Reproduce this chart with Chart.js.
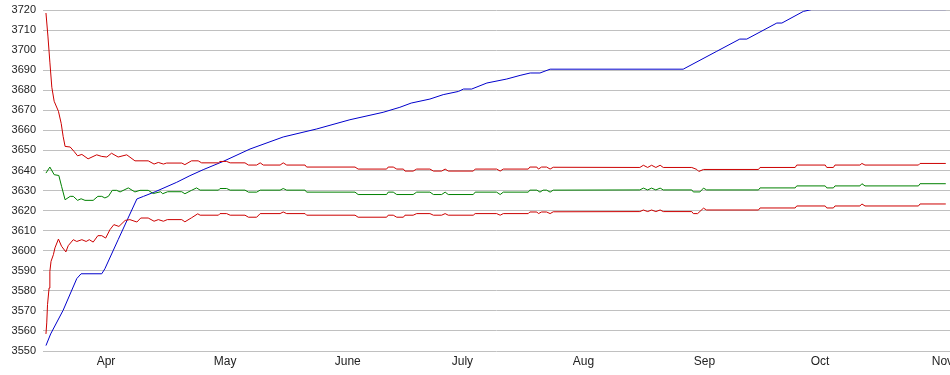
<!DOCTYPE html>
<html>
<head>
<meta charset="utf-8">
<script src="https://cdn.jsdelivr.net/npm/chart.js@4/dist/chart.umd.min.js"></script>
<style>
  html, body { margin: 0; padding: 0; background: #ffffff; }
  #wrap { width: 950px; height: 375px; position: relative; }
</style>
</head>
<body>
<div id="wrap"><canvas id="c"></canvas></div>
<script>
// x values are day-of-year (Mar 19 = 78 ... Nov 4 = 308)
const monthStarts = [91, 121, 152, 182, 213, 244, 274, 305];
const monthLabels = ['Apr', 'May', 'June', 'July', 'Aug', 'Sep', 'Oct', 'Nov'];

const yTicks = { min: 3550, max: 3720, step: 10 };

const blueDays = [78.0, 79.2, 82.4, 85.9, 87.0, 92.3, 93.1, 96.5, 101.3, 103.0, 106.0, 111.5, 114.9, 118.3, 123.4, 130.3, 138.8, 147.4, 155.9, 164.4, 168.7, 171.6, 176.4, 179.8, 183.7, 185.0, 187.1, 191.0, 196.1, 199.5, 202.1, 204.6, 207.2, 241.3, 249.9, 255.8, 257.6, 265.3, 266.6, 272.1, 274.2, 308.6];
const blueValues = [3552.7, 3558.5, 3570.3, 3586.1, 3588.5, 3588.5, 3591.0, 3605.5, 3625.8, 3627.1, 3629.4, 3634.1, 3637.4, 3640.4, 3644.5, 3650.7, 3656.7, 3660.7, 3665.3, 3669.0, 3671.5, 3673.6, 3675.6, 3677.8, 3679.4, 3680.6, 3680.6, 3683.6, 3685.6, 3687.4, 3688.6, 3688.6, 3690.5, 3690.5, 3699.4, 3705.5, 3705.5, 3713.5, 3713.5, 3719.3, 3720.2, 3720.2];

const upperDays = [78.0, 78.5, 79.0, 79.5, 80.1, 81.2, 81.9, 82.4, 82.9, 84.2, 85.2, 86.1, 87.2, 88.8, 91.0, 92.3, 93.6, 94.8, 96.5, 98.7, 100.8, 104.2, 105.7, 106.8, 108.1, 108.9, 112.8, 113.6, 115.3, 117.0, 117.9, 122.2, 122.6, 124.3, 125.2, 129.0, 129.9, 132.0, 132.9, 133.7, 138.0, 138.8, 139.7, 144.4, 144.8, 157.2, 158.0, 165.3, 165.7, 167.0, 167.9, 169.6, 170.0, 172.1, 173.0, 176.4, 177.3, 179.4, 180.3, 181.1, 187.5, 188.0, 193.5, 194.4, 195.2, 201.6, 202.0, 203.8, 204.2, 205.0, 206.3, 207.2, 208.0, 230.2, 231.1, 232.2, 233.2, 234.3, 235.4, 236.2, 243.5, 244.8, 245.3, 246.5, 260.6, 261.0, 270.0, 270.4, 277.7, 278.1, 279.8, 280.2, 286.6, 287.1, 287.9, 301.6, 302.0, 308.6];
const upperValues = [3718.5, 3707.0, 3694.0, 3681.5, 3674.5, 3669.5, 3663.5, 3657.0, 3652.0, 3651.7, 3649.5, 3647.3, 3648.0, 3645.8, 3647.8, 3647.0, 3646.7, 3648.6, 3646.7, 3647.8, 3644.8, 3644.8, 3643.2, 3644.0, 3643.2, 3643.7, 3643.7, 3642.9, 3644.8, 3644.8, 3643.8, 3643.8, 3644.5, 3644.5, 3643.8, 3643.8, 3642.7, 3642.7, 3643.8, 3642.7, 3642.7, 3643.8, 3642.7, 3642.7, 3641.7, 3641.7, 3640.7, 3640.7, 3641.7, 3641.7, 3640.7, 3640.7, 3639.7, 3639.7, 3640.7, 3640.7, 3639.7, 3639.7, 3640.7, 3639.7, 3639.7, 3640.7, 3640.7, 3639.7, 3640.7, 3640.7, 3641.7, 3641.7, 3640.7, 3641.7, 3641.7, 3640.7, 3641.6, 3641.5, 3642.6, 3641.5, 3642.6, 3641.5, 3642.6, 3641.5, 3641.5, 3640.5, 3639.5, 3640.5, 3640.5, 3641.5, 3641.5, 3642.7, 3642.7, 3641.5, 3641.5, 3642.7, 3642.7, 3643.5, 3642.7, 3642.7, 3643.5, 3643.5];

const middleDays = [78.0, 79.0, 80.1, 81.3, 82.0, 82.9, 84.2, 85.0, 86.1, 87.0, 88.0, 90.1, 91.3, 92.3, 93.1, 94.0, 95.0, 96.1, 97.0, 99.1, 100.8, 102.1, 104.2, 105.5, 107.4, 107.9, 109.2, 112.8, 113.6, 115.3, 116.6, 117.5, 122.2, 122.6, 124.3, 125.2, 129.0, 129.9, 132.0, 132.9, 138.0, 138.8, 139.7, 144.4, 144.8, 157.2, 158.0, 165.3, 165.7, 167.0, 167.9, 172.1, 173.0, 176.4, 177.3, 179.4, 180.3, 181.1, 187.5, 188.0, 193.5, 194.4, 195.2, 201.6, 202.0, 203.8, 204.6, 205.4, 206.3, 207.2, 208.0, 230.2, 231.1, 232.2, 233.2, 234.3, 235.4, 236.2, 243.5, 243.9, 245.6, 246.5, 247.3, 260.6, 261.0, 270.0, 270.4, 277.7, 278.1, 279.8, 280.2, 286.6, 287.1, 287.9, 301.6, 302.0, 308.6];
const middleValues = [3638.7, 3641.7, 3637.9, 3637.5, 3632.1, 3625.4, 3627.1, 3627.1, 3625.1, 3625.9, 3625.1, 3625.1, 3627.1, 3627.1, 3626.3, 3627.1, 3630.1, 3630.1, 3629.3, 3631.3, 3629.3, 3630.1, 3630.1, 3628.5, 3629.4, 3628.4, 3629.4, 3629.4, 3628.4, 3630.1, 3631.3, 3630.2, 3630.2, 3631.0, 3631.0, 3630.2, 3630.2, 3629.2, 3629.2, 3630.2, 3630.2, 3631.0, 3630.2, 3630.2, 3629.2, 3629.2, 3628.0, 3628.0, 3629.2, 3629.2, 3628.0, 3628.0, 3629.2, 3629.2, 3628.0, 3628.0, 3629.2, 3628.0, 3628.0, 3629.2, 3629.2, 3628.0, 3629.2, 3629.2, 3630.2, 3630.2, 3629.2, 3630.2, 3630.2, 3629.2, 3630.2, 3630.3, 3631.2, 3630.3, 3631.2, 3630.3, 3631.2, 3630.3, 3630.3, 3629.3, 3629.3, 3631.2, 3630.3, 3630.3, 3631.3, 3631.3, 3632.3, 3632.3, 3631.3, 3631.3, 3632.3, 3632.3, 3633.4, 3632.3, 3632.3, 3633.4, 3633.4];

const lowerDays = [78.0, 78.2, 78.4, 78.8, 79.0, 79.3, 79.9, 80.3, 81.2, 82.0, 83.1, 83.7, 85.0, 85.9, 87.2, 88.3, 89.1, 90.1, 91.3, 92.3, 93.3, 94.4, 95.4, 96.7, 98.3, 99.5, 101.3, 102.3, 104.2, 105.7, 106.8, 108.1, 109.1, 112.8, 113.6, 115.3, 116.9, 117.5, 122.2, 122.6, 124.3, 125.2, 129.0, 129.9, 132.0, 132.9, 138.0, 138.8, 139.7, 144.4, 144.8, 157.2, 158.0, 165.3, 165.7, 167.0, 167.9, 169.6, 170.0, 172.1, 173.0, 176.4, 177.3, 179.4, 180.3, 181.1, 187.5, 188.0, 193.5, 194.4, 195.2, 201.6, 202.0, 203.8, 204.2, 205.0, 206.3, 207.2, 208.0, 230.2, 231.1, 232.2, 233.2, 234.3, 235.4, 236.2, 243.5, 243.9, 245.0, 246.5, 247.3, 260.6, 261.0, 270.0, 270.4, 277.7, 278.1, 279.8, 280.2, 286.6, 287.1, 287.9, 301.6, 302.0, 308.6];
const lowerValues = [3558.5, 3564.0, 3573.1, 3581.4, 3589.7, 3594.7, 3598.0, 3601.4, 3605.8, 3602.2, 3599.4, 3602.5, 3605.5, 3604.6, 3605.5, 3604.6, 3605.5, 3604.3, 3607.5, 3607.5, 3606.3, 3610.5, 3613.0, 3612.1, 3615.1, 3615.5, 3614.3, 3616.3, 3616.3, 3614.7, 3615.5, 3614.7, 3615.5, 3615.5, 3614.4, 3616.4, 3618.4, 3617.7, 3617.7, 3618.5, 3618.5, 3617.7, 3617.7, 3616.7, 3616.7, 3618.5, 3618.5, 3619.3, 3618.5, 3618.5, 3617.7, 3617.7, 3616.7, 3616.7, 3617.7, 3617.7, 3616.7, 3616.7, 3617.7, 3617.7, 3618.5, 3618.5, 3617.7, 3617.7, 3618.5, 3617.7, 3617.7, 3618.5, 3618.5, 3617.7, 3618.5, 3618.5, 3619.3, 3619.3, 3618.5, 3619.3, 3619.3, 3618.5, 3619.4, 3619.5, 3620.3, 3619.5, 3620.3, 3619.5, 3620.3, 3619.5, 3619.5, 3618.5, 3618.5, 3621.2, 3620.3, 3620.3, 3621.3, 3621.3, 3622.3, 3622.3, 3621.3, 3621.3, 3622.3, 3622.3, 3623.3, 3622.3, 3622.3, 3623.3, 3623.3];

function pts(days, values) { return days.map((d, i) => ({ x: d, y: values[i] })); }

const lineStyle = { borderWidth: 1, pointRadius: 0, tension: 0, fill: false };

new Chart(document.getElementById('c'), {
  type: 'line',
  data: {
    datasets: [
      Object.assign({ label: 'upper', data: pts(upperDays, upperValues), borderColor: '#cc0000' }, lineStyle),
      Object.assign({ label: 'middle', data: pts(middleDays, middleValues), borderColor: '#008000' }, lineStyle),
      Object.assign({ label: 'lower', data: pts(lowerDays, lowerValues), borderColor: '#cc0000' }, lineStyle),
      Object.assign({ label: 'blue', data: pts(blueDays, blueValues), borderColor: '#0000cc' }, lineStyle)
    ]
  },
  options: {
    responsive: true,
    maintainAspectRatio: false,
    animation: false,
    devicePixelRatio: 1,
    layout: { padding: { top: 10, right: 0, bottom: 0, left: 0 } },
    plugins: { legend: { display: false }, tooltip: { enabled: false } },
    scales: {
      x: {
        type: 'linear',
        min: 77.24,
        max: 309.68,
        grid: { display: false, drawTicks: false },
        border: { display: false },
        afterBuildTicks: (s) => { s.ticks = monthStarts.map(v => ({ value: v })); },
        afterFit: (s) => { s.height = 24; s.paddingLeft = 0; s.paddingRight = 0; },
        ticks: {
          autoSkip: false,
          maxRotation: 0,
          align: 'start',
          padding: 3,
          color: '#222',
          font: { family: 'Liberation Sans, Arial, sans-serif', size: 12 },
          callback: (v) => { const i = monthStarts.indexOf(v); return i >= 0 ? monthLabels[i] : ''; }
        }
      },
      y: {
        min: yTicks.min,
        max: yTicks.max,
        grid: { color: '#c0c0c0', lineWidth: 1, drawTicks: false },
        border: { display: false },
        afterFit: (s) => { s.width = 43; s.paddingTop = 0; s.paddingBottom = 0; },
        ticks: {
          stepSize: yTicks.step,
          padding: 7,
          color: '#222',
          font: { family: 'Liberation Sans, Arial, sans-serif', size: 11 },
          callback: (v) => String(v)
        }
      }
    }
  }
});
</script>
</body>
</html>
